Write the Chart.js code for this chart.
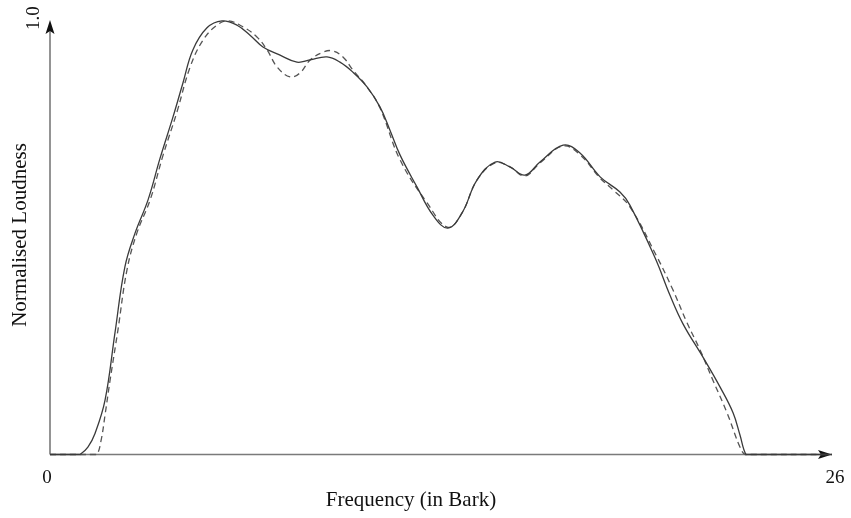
<!DOCTYPE html>
<html>
<head>
<meta charset="utf-8">
<script src="https://cdn.jsdelivr.net/npm/chart.js@4.4.1/dist/chart.umd.min.js"></script>
<style>
  html, body { margin: 0; padding: 0; background: #fff; }
  #wrap { width: 851px; height: 518px; position: relative; }
</style>
</head>
<body>
<div id="wrap"><canvas id="c" width="851" height="518"></canvas></div>
<script>
// Loudness spectrum: frequency in Bark vs normalised loudness
const barkSolid = [0, 0.5, 0.9, 1.0, 1.26, 1.50, 1.83, 2.16, 2.49, 2.83, 3.26, 3.66, 4.09, 4.42, 4.75, 5.22, 5.72, 6.22, 6.65, 7.08, 7.65, 8.21, 8.64, 9.21, 9.64, 10.07, 10.54, 10.97, 11.30, 11.64, 12.20, 12.73, 13.23, 13.70, 14.20, 14.80, 15.29, 15.79, 16.29, 17.06, 17.62, 18.29, 18.95, 19.28, 20.12, 20.61, 21.05, 21.71, 22.28, 22.71, 22.94, 23.14, 23.3, 26];
const loudSolid = [0, 0, 0, 0, 0.017, 0.049, 0.125, 0.280, 0.432, 0.510, 0.586, 0.682, 0.777, 0.855, 0.931, 0.982, 0.998, 0.988, 0.965, 0.938, 0.919, 0.903, 0.908, 0.915, 0.903, 0.880, 0.846, 0.800, 0.747, 0.689, 0.616, 0.551, 0.521, 0.556, 0.632, 0.673, 0.662, 0.643, 0.673, 0.712, 0.694, 0.639, 0.604, 0.574, 0.452, 0.367, 0.300, 0.224, 0.155, 0.096, 0.045, 0, 0, 0];

const barkDashed = [0, 0.8, 1.4, 1.56, 1.70, 1.83, 2.00, 2.26, 2.56, 2.89, 3.33, 3.76, 4.22, 4.66, 5.09, 5.55, 5.92, 6.42, 6.88, 7.22, 7.55, 7.98, 8.31, 8.65, 9.08, 9.38, 9.74, 10.07, 10.54, 10.97, 11.64, 12.54, 13.23, 13.70, 14.20, 14.80, 15.29, 15.79, 16.29, 17.06, 17.62, 18.29, 18.72, 19.28, 20.18, 20.71, 21.18, 21.61, 22.04, 22.51, 22.94, 23.11, 23.3, 26];
const loudDashed = [0, 0, 0, 0, 0.033, 0.091, 0.172, 0.287, 0.425, 0.510, 0.586, 0.689, 0.788, 0.892, 0.954, 0.988, 0.998, 0.984, 0.961, 0.931, 0.892, 0.869, 0.878, 0.908, 0.926, 0.929, 0.915, 0.885, 0.846, 0.798, 0.678, 0.579, 0.523, 0.556, 0.632, 0.671, 0.662, 0.641, 0.671, 0.710, 0.690, 0.636, 0.609, 0.570, 0.455, 0.379, 0.303, 0.241, 0.171, 0.096, 0.017, 0, 0, 0];

// Axis end labels
const xTickLabels = ['0', '26'];
const yTickLabels = ['1.0'];
const xTitle = 'Frequency (in Bark)';
const yTitle = 'Normalised Loudness';

const toPoints = (xs, ys) => xs.map((x, i) => ({ x: x, y: ys[i] }));

const SERIF = '"Liberation Serif", "DejaVu Serif", serif';

// Arrow axes plus end labels, drawn on the chart's own scales
const arrowAxes = {
  id: 'arrowAxes',
  beforeDatasetsDraw(chart) {
    const { ctx, scales: { x, y } } = chart;
    const x0 = x.getPixelForValue(0), x1 = x.getPixelForValue(26);
    const y0 = y.getPixelForValue(0), y1 = y.getPixelForValue(1.0);
    ctx.save();
    ctx.strokeStyle = '#7a7a7a';
    ctx.lineWidth = 1.6;
    ctx.beginPath();
    ctx.moveTo(x0, y0); ctx.lineTo(x1 - 6, y0);
    ctx.moveTo(x0, y0); ctx.lineTo(x0, y1 + 6);
    ctx.stroke();
    ctx.fillStyle = '#111';
    ctx.beginPath();
    ctx.moveTo(x1, y0); ctx.lineTo(x1 - 14, y0 - 4.5); ctx.lineTo(x1 - 11, y0); ctx.lineTo(x1 - 14, y0 + 4.5); ctx.closePath();
    ctx.fill();
    ctx.beginPath();
    ctx.moveTo(x0, y1); ctx.lineTo(x0 - 4.5, y1 + 14); ctx.lineTo(x0, y1 + 11); ctx.lineTo(x0 + 4.5, y1 + 14); ctx.closePath();
    ctx.fill();
    ctx.restore();
  },
  afterDraw(chart) {
    const { ctx, scales: { x, y } } = chart;
    const x0 = x.getPixelForValue(0), x1 = x.getPixelForValue(26);
    const y0 = y.getPixelForValue(0), y1 = y.getPixelForValue(1.0);
    ctx.save();
    ctx.fillStyle = '#111';
    ctx.textAlign = 'center';
    ctx.textBaseline = 'middle';
    ctx.font = '19px ' + SERIF;
    ctx.fillText(xTickLabels[0], x0 - 3, y0 + 24);
    ctx.fillText(xTickLabels[1], x1 + 3, y0 + 24);
    ctx.font = '21px ' + SERIF;
    ctx.fillText(xTitle, 411, y0 + 46);
    ctx.save();
    ctx.translate(34, y1 - 2);
    ctx.rotate(-Math.PI / 2);
    ctx.font = '19px ' + SERIF;
    ctx.fillText(yTickLabels[0], 0, 0);
    ctx.restore();
    ctx.save();
    ctx.translate(20, 235);
    ctx.rotate(-Math.PI / 2);
    ctx.font = '21px ' + SERIF;
    ctx.fillText(yTitle, 0, 0);
    ctx.restore();
    ctx.restore();
  }
};

new Chart(document.getElementById('c'), {
  type: 'line',
  data: {
    datasets: [
      {
        label: 'solid',
        data: toPoints(barkSolid, loudSolid),
        borderColor: '#3a3a3a',
        borderWidth: 1.3,
        pointRadius: 0,
        tension: 0.4,
        fill: false,
        clip: false
      },
      {
        label: 'dashed',
        data: toPoints(barkDashed, loudDashed),
        borderColor: '#555',
        borderWidth: 1.3,
        borderDash: [6, 4],
        pointRadius: 0,
        tension: 0.4,
        fill: false,
        clip: false
      }
    ]
  },
  options: {
    responsive: false,
    animation: false,
    events: [],
    layout: { padding: { left: 50, right: 19, top: 20, bottom: 63.5 } },
    plugins: { legend: { display: false }, tooltip: { enabled: false } },
    scales: {
      x: { type: 'linear', min: 0, max: 26, display: false },
      y: { type: 'linear', min: 0, max: 1, display: false }
    }
  },
  plugins: [arrowAxes]
});
</script>
</body>
</html>
